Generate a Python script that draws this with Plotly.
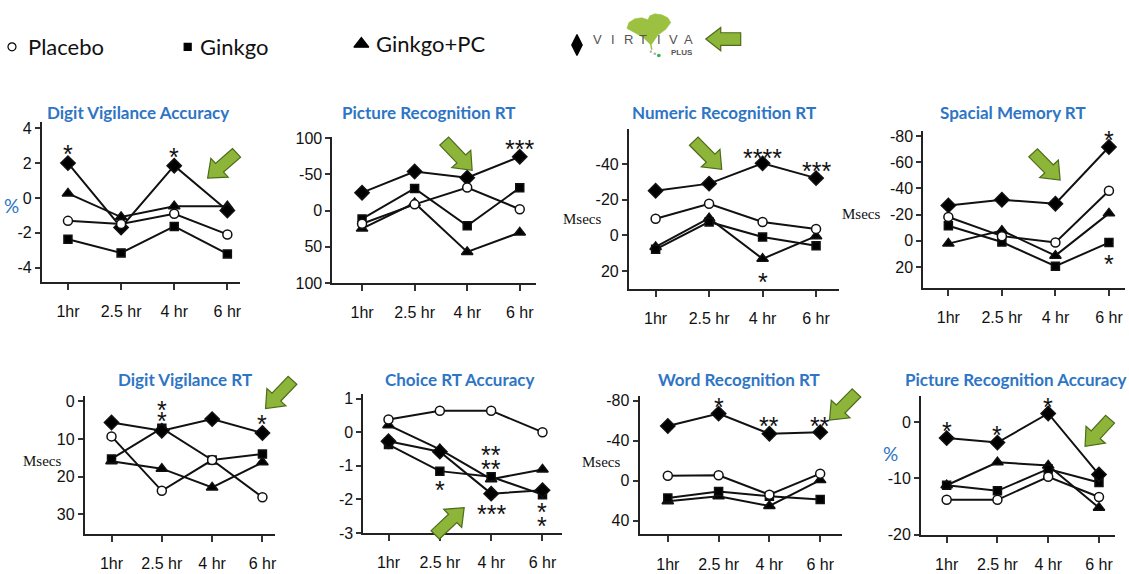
import math
import plotly.graph_objects as go

W, H = 1129, 574

# ---------------- data ----------------
times = ["1hr", "2.5 hr", "4 hr", "6 hr"]
xpos = [0, 1, 2, 3]

titles = ["Digit Vigilance Accuracy", "Picture Recognition RT", "Numeric Recognition RT",
          "Spacial Memory RT", "Digit Vigilance RT", "Choice RT Accuracy",
          "Word Recognition RT", "Picture Recognition Accuracy"]

placebo = [[-1.32, -1.5, -0.91, -2.1], [18, -8.7, -32, -2], [-9.4, -17.8, -7.6, -3.7],
           [-18.1, -3.5, 1.4, -38.2], [9.3, 23.8, 15.6, 25.5], [0.38, 0.64, 0.64, 0.0],
           [-4.8, -5.4, 14.1, -7.0], [-13.8, -13.8, -9.7, -13.3]]
ginkgo = [[-2.38, -3.16, -1.64, -3.22], [11.4, -30.6, 20.8, -31.5], [7.8, -7.6, 0.9, 5.8],
          [-11.4, 1.0, 19.5, 1.4], [15.3, 7.1, 15.6, 14.0], [-0.37, -1.16, -1.33, -1.86],
          [17.4, 10.8, 15.7, 19.0], [-11.2, -12.2, -8.3, -10.7]]
ginkgo_pc = [[0.26, -1.1, -0.48, -0.48], [24.8, -10.5, 57, 30.2], [6.4, -9.7, 13.1, 0.4],
             [2.2, -7.7, 11.4, -20.9], [15.9, 17.9, 22.9, 16.2], [0.21, -0.51, -1.4, -1.11],
             [20.6, 15.7, 25.4, -0.5], [-11.2, -7.1, -7.7, -15.2]]
virtiva = [[2.0, -1.7, 1.85, -0.72], [-24.8, -54, -45.4, -74.5], [-25.1, -29.1, -40.5, -32.2],
           [-27, -31.3, -28.3, -71.6], [5.6, 7.8, 4.7, 8.4], [-0.27, -0.58, -1.83, -1.73],
           [-54.8, -67.2, -47, -48.6], [-2.8, -3.6, 1.6, -9.3]]

ytickvals = [[4, 2, 0, -2, -4], [-100, -50, 0, 50, 100], [-60, -40, -20, 0, 20],
             [-80, -60, -40, -20, 0, 20], [0, 10, 20, 30], [1, 0, -1, -2, -3],
             [-80, -40, 0, 40], [0, -10, -20]]
yticktext = [["4", "2", "0", "-2", "-4"], ["100", "-50", "0", "50", "100"],
             ["-60", "-40", "-20", "0", "20"], ["-80", "-60", "-40", "-20", "0", "20"],
             ["0", "10", "20", "30"], ["1", "0", "-1", "-2", "-3"],
             ["-80", "-40", "0", "40"], ["0", "-10", "-20"]]
ylabels = ["%", "", "Msecs", "Msecs", "Msecs", "", "Msecs", "%"]

# significance marks: (panel, time index, value, text)
stars = [(0, 0, 2.87, "*"), (0, 2, 2.7, "*"),
         (1, 3, -93, "***"),
         (2, 2, -47, "****"), (2, 3, -39.3, "***"), (2, 2, 22.9, "*"),
         (3, 3, -81.5, "*"), (3, 3, 13.1, "*"),
         (4, 1, 0.6, "*"), (4, 1, 3.7, "*"), (4, 3, 4.4, "*"),
         (5, 1, -1.54, "*"), (5, 2, -0.51, "**"), (5, 2, -0.92, "**"), (5, 2, -2.25, "***"),
         (5, 3, -2.19, "*"), (5, 3, -2.62, "*"),
         (6, 1, -80, "*"), (6, 2, -60.6, "**"), (6, 3, -60.6, "**"),
         (7, 0, -0.47, "*"), (7, 1, -1.16, "*"), (7, 2, 3.86, "*")]

# ---------------- layout geometry (pixels) ----------------
frames = [(42, 240, 118, 283), (333, 537, 133.5, 284), (630, 840, 126, 290),
          (925, 1127, 128, 289.3), (85, 275, 400, 541.7), (364, 563, 398, 541),
          (640.7, 843, 400, 542.6), (922.7, 1116.7, 400.2, 542.7)]
xranges = [[-0.49, 3.23], [-0.564, 3.31], [-0.5, 3.42], [-0.467, 3.3],
           [-0.53, 3.24], [-0.49, 3.38], [-0.556, 3.42], [-0.504, 3.31]]
yranges = [[-4.84, 4.38], [100, -102], [30, -59.5], [36.3, -83.5],
           [35.2, -1.5], [-3, 1.14], [54, -85], [-20, 4.7]]
title_pos = [(138, 109), (430, 109), (725, 109), (1015, 109),
             (185, 383), (460, 383), (740, 383), (1018, 383)]
ylabel_pos = [(12, 204), None, (583, 218), (863, 213), (42, 467), None, (602, 468), (892, 459)]

arrows = [(742, 33, 707, 33), (237, 150, 208, 176), (445, 138, 473, 168),
          (695, 138, 723, 167), (1035, 150, 1062, 178), (293, 384, 266, 413),
          (436, 543, 465, 515), (858, 397, 831, 425), (1112, 424, 1087, 452)]

TICKFONT = dict(family="Liberation Sans, Arial", size=16, color="#111")
BLUE = "#2E75C5"
GREEN = "#8DB53A"

fig = go.Figure()

series = [
    ("Ginkgo+PC", ginkgo_pc, "triangle-up", 10, "black"),
    ("Ginkgo", ginkgo, "square", 8, "black"),
    ("Virtiva", virtiva, "diamond", 11, "black"),
    ("Placebo", placebo, "circle", 9, "white"),
]

layout_axes = {}
for i in range(8):
    n = i + 1
    xa = "x" if n == 1 else f"x{n}"
    ya = "y" if n == 1 else f"y{n}"
    xl, xr, yt, yb = frames[i]
    layout_axes["xaxis" if n == 1 else f"xaxis{n}"] = dict(
        domain=[xl / W, xr / W], range=xranges[i], anchor=ya,
        tickvals=xpos, ticktext=times, ticks="outside", ticklen=6, tickwidth=1.5,
        tickcolor="#333", showline=True, linecolor="#222", linewidth=2,
        ticklabelstandoff=8,
        showgrid=False, zeroline=False, tickfont=TICKFONT, fixedrange=True)
    layout_axes["yaxis" if n == 1 else f"yaxis{n}"] = dict(
        domain=[1 - yb / H, 1 - yt / H], range=yranges[i], anchor=xa,
        tickvals=ytickvals[i], ticktext=yticktext[i], ticks="outside", ticklen=5,
        tickwidth=1.5, tickcolor="#333", showline=True, linecolor="#222", linewidth=2,
        showgrid=False, zeroline=False, tickfont=TICKFONT, fixedrange=True)
    for name, data, sym, size, fill in series:
        fig.add_trace(go.Scatter(
            x=xpos, y=data[i], xaxis=xa, yaxis=ya, mode="lines+markers", name=name,
            showlegend=False, cliponaxis=False,
            line=dict(color="#111", width=2),
            marker=dict(symbol=sym, size=size, color=fill,
                        line=dict(color="#111", width=1.5))))

layout_axes["xaxis9"] = dict(domain=[0, 1], range=[0, W], visible=False, anchor="y9",
                             fixedrange=True)
layout_axes["yaxis9"] = dict(domain=[0, 1], range=[H, 0], visible=False, anchor="x9",
                             fixedrange=True)

legend_items = [("Placebo", "circle", 8, "white", 12, 41, 26),
                ("Ginkgo", "square", 7, "black", 188, 41, 198),
                ("Ginkgo+PC", "triangle-up", 13, "black", 362, 38, 375),
                ("", "diamond-tall", 15, "black", 578, 39, 0)]

annotations = []
for name, sym, size, fill, mx, my, tx in legend_items:
    fig.add_trace(go.Scatter(x=[mx], y=[my], xaxis="x9", yaxis="y9", mode="markers",
                             showlegend=False, hoverinfo="skip",
                             marker=dict(symbol=sym, size=size, color=fill,
                                         line=dict(color="black", width=1.2))))
    if name:
        annotations.append(dict(xref="x9", yref="y9", x=tx, y=my, text=name,
                                xanchor="left", yanchor="middle", showarrow=False,
                                font=dict(family="Lato, Open Sans", size=22, color="#111")))

for i, t in enumerate(titles):
    x, y = title_pos[i]
    annotations.append(dict(xref="x9", yref="y9", x=x, y=y, text=f"<b>{t}</b>",
                            showarrow=False, xanchor="center", yanchor="middle",
                            font=dict(family="Lato, Open Sans", size=17, color=BLUE)))

for i, lab in enumerate(ylabels):
    if not lab:
        continue
    x, y = ylabel_pos[i]
    if lab == "%":
        f = dict(family="Lato, Open Sans", size=19, color=BLUE)
    else:
        f = dict(family="Liberation Serif, DejaVu Serif", size=15, color="#111")
    annotations.append(dict(xref="x9", yref="y9", x=x, y=y, text=lab, showarrow=False,
                            xanchor="center", yanchor="middle", font=f))

for p, xi, v, txt in stars:
    n = p + 1
    xa = "x" if n == 1 else f"x{n}"
    ya = "y" if n == 1 else f"y{n}"
    annotations.append(dict(xref=xa, yref=ya, x=xi, y=v, text=txt, showarrow=False,
                            xanchor="center", yanchor="middle", yshift=-6,
                            font=dict(family="Liberation Sans", size=25, color="#111")))

shapes = []


def block_arrow(tx, ty, hx, hy, sw=12, hw=26, hl=16):
    L = math.hypot(hx - tx, hy - ty)
    dx, dy = (hx - tx) / L, (hy - ty) / L
    nx, ny = -dy, dx
    neck = (hx - dx * hl, hy - dy * hl)
    pts = [
        (tx + nx * sw / 2, ty + ny * sw / 2),
        (neck[0] + nx * sw / 2, neck[1] + ny * sw / 2),
        (neck[0] + nx * hw / 2, neck[1] + ny * hw / 2),
        (hx, hy),
        (neck[0] - nx * hw / 2, neck[1] - ny * hw / 2),
        (neck[0] - nx * sw / 2, neck[1] - ny * sw / 2),
        (tx - nx * sw / 2, ty - ny * sw / 2),
    ]
    path = "M " + " L ".join(f"{x:.2f},{y:.2f}" for x, y in pts) + " Z"
    return dict(type="path", xref="x9", yref="y9", path=path, fillcolor=GREEN,
                line=dict(color="#4d6b1a", width=1.2), layer="above")


for k, (tx, ty, hx, hy) in enumerate(arrows):
    if k == 0:
        shapes.append(block_arrow(tx, ty, hx, hy, sw=13, hw=24, hl=15))
    else:
        shapes.append(block_arrow(tx, ty, hx, hy))

# ginkgo leaf: fan shape with central notch
leaf = [(651, 38), (644, 31), (635, 26), (628, 22), (630, 16), (636, 12), (643, 11),
        (649, 13), (651, 9), (656, 7), (663, 8), (669, 11), (672, 16), (667, 23),
        (659, 29), (653, 38)]
shapes.append(dict(type="path", xref="x9", yref="y9",
                   path="M " + " L ".join(f"{x},{y}" for x, y in leaf) + " Z",
                   fillcolor="#9CC141", line=dict(color="#9CC141", width=0.5), layer="below"))
shapes.append(dict(type="line", xref="x9", yref="y9", x0=651, y0=34, x1=653, y1=44,
                   line=dict(color="#9CC141", width=1.5)))
for (cx, cy, r, c) in [(652, 46, 1.2, "#b0b0b0"), (656, 48, 1.3, "#a0b8a0"),
                       (660, 50, 1.8, "#2db34a")]:
    shapes.append(dict(type="circle", xref="x9", yref="y9", x0=cx - r, x1=cx + r,
                       y0=cy - r, y1=cy + r, fillcolor=c, line=dict(width=0)))
letters = "VIRTIVA"
for j, ch in enumerate(letters):
    annotations.append(dict(xref="x9", yref="y9", x=599 + j * 15.2, y=33, text=ch,
                            showarrow=False, xanchor="center", yanchor="middle",
                            font=dict(family="Liberation Sans", size=13, color="#555")))
annotations.append(dict(xref="x9", yref="y9", x=683, y=47, text="<b>PLUS</b>",
                        showarrow=False, xanchor="center", yanchor="middle",
                        font=dict(family="Liberation Sans", size=8, color="#555")))

fig.update_layout(width=W, height=H, margin=dict(l=0, r=0, t=0, b=0),
                  paper_bgcolor="white", plot_bgcolor="rgba(0,0,0,0)",
                  showlegend=False, annotations=annotations, shapes=shapes,
                  **layout_axes)

fig.write_html("out.html", config={"displayModeBar": False},
               post_script="document.body.style.margin='0';")
